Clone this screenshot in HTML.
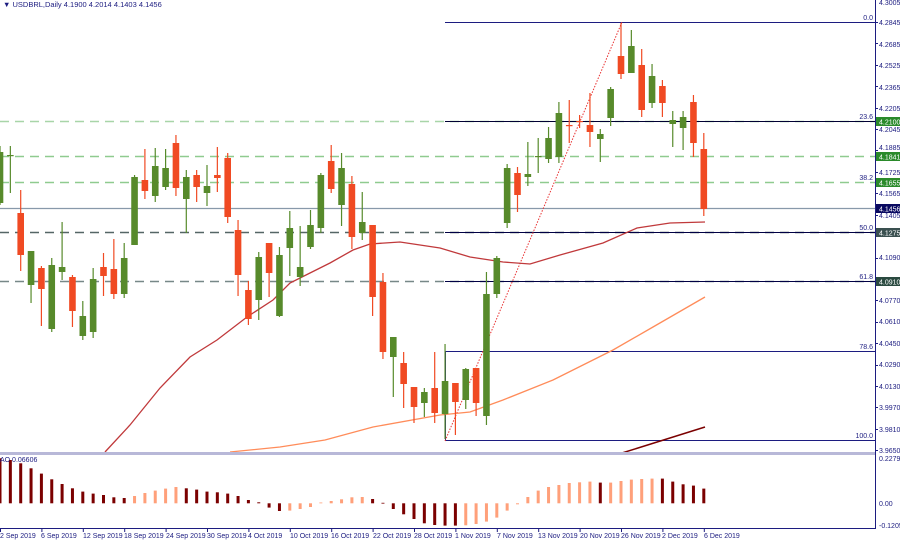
<!DOCTYPE html>
<html><head><meta charset="utf-8"><style>
html,body{margin:0;padding:0;background:#fff;width:900px;height:541px;overflow:hidden}
svg{display:block}
text{font-family:"Liberation Sans",sans-serif;font-size:7px}
</style></head><body>
<svg id="s" width="900" height="541" viewBox="0 0 900 541" xmlns="http://www.w3.org/2000/svg">
<rect width="900" height="541" fill="#fff"/>
<g stroke-width="1.5" fill="none">
<line x1="0" y1="121.5" x2="875" y2="121.5" stroke="#a8d5a8" stroke-dasharray="9,6"/>
<line x1="0" y1="156.5" x2="875" y2="156.5" stroke="#8fcb8f" stroke-dasharray="9,6"/>
<line x1="0" y1="182.5" x2="875" y2="182.5" stroke="#8fcb8f" stroke-dasharray="9,6"/>
<line x1="0" y1="208.5" x2="875" y2="208.5" stroke="#8899aa" stroke-width="1.2"/>
<line x1="0" y1="232.5" x2="875" y2="232.5" stroke="#556666" stroke-dasharray="9,6"/>
<line x1="0" y1="281.5" x2="875" y2="281.5" stroke="#778888" stroke-dasharray="9,6"/>
</g>
<g stroke="#1c1c80" stroke-width="1" fill="none">
<line x1="445" y1="22.5" x2="875" y2="22.5"/>
<line x1="445" y1="121.5" x2="875" y2="121.5" stroke="#000033"/>
<line x1="445" y1="232.5" x2="875" y2="232.5" stroke="#000044"/>
<line x1="445" y1="281.5" x2="875" y2="281.5" stroke="#000044"/>
<line x1="445" y1="351.5" x2="875" y2="351.5"/>
<line x1="445" y1="440.5" x2="875" y2="440.5"/>
<line x1="445.5" y1="351" x2="445.5" y2="441"/>
</g>
<line x1="445" y1="441" x2="622" y2="22" stroke="#e83030" stroke-width="1" stroke-dasharray="1.5,1.5"/>
<g fill="#1c1c80" text-anchor="end">
<text x="873" y="20">0.0</text><text x="873" y="119">23.6</text><text x="873" y="180">38.2</text>
<text x="873" y="230">50.0</text><text x="873" y="279">61.8</text><text x="873" y="349">78.6</text><text x="873" y="438">100.0</text>
</g>
<polyline fill="none" stroke="#c0393b" stroke-width="1.3" points="105,452 130,425 160,388 190,357 217,340 247,317 273,300 290,283 310,273 330,263 353,250 370,244 400,242 440,248 470,257 503,262 530,264 560,255 603,243 637,228 670,223 705,222"/>
<polyline fill="none" stroke="#ff8c5a" stroke-width="1.3" points="230,452 280,447 325,440 373,427 440,415 470,412 503,400 553,380 613,350 653,327 705,297"/>
<line x1="622" y1="453" x2="705" y2="427" stroke="#7b0000" stroke-width="1.5"/>
<g id="c"></g>
<rect x="0" y="452" width="875" height="3" fill="#b8b8d8"/>
<g id="ao"></g>
<line x1="0" y1="528.5" x2="876" y2="528.5" stroke="#1c1c80"/>
<line x1="875.5" y1="0" x2="875.5" y2="529" stroke="#1c1c80"/>
<g id="tk" stroke="#1c1c80"></g>
<g fill="#1c1c80">
<text x="879" y="5">4.3005</text><text x="879" y="25">4.2845</text><text x="879" y="47">4.2685</text>
<text x="879" y="68">4.2525</text><text x="879" y="90">4.2365</text><text x="879" y="111">4.2205</text>
<text x="879" y="132">4.2045</text><text x="879" y="150">4.1885</text><text x="879" y="175">4.1725</text>
<text x="879" y="196">4.1565</text><text x="879" y="218">4.1405</text><text x="879" y="260">4.1090</text>
<text x="879" y="303">4.0770</text><text x="879" y="324">4.0610</text><text x="879" y="346">4.0450</text>
<text x="879" y="367">4.0290</text><text x="879" y="389">4.0130</text><text x="879" y="410">3.9970</text>
<text x="879" y="432">3.9810</text><text x="879" y="453">3.9650</text>
<text x="879" y="461">0.22797</text><text x="879" y="506">0.00</text><text x="879" y="528">-0.12058</text>
</g>
<rect x="876" y="117" width="24" height="9" fill="#2a8a2a"/><text x="879" y="124.5" fill="#fff">4.2100</text>
<rect x="876" y="152" width="24" height="9" fill="#2a8a2a"/><text x="879" y="159.5" fill="#fff">4.1841</text>
<rect x="876" y="178" width="24" height="9" fill="#2a8a2a"/><text x="879" y="185.5" fill="#fff">4.1655</text>
<rect x="876" y="204" width="24" height="9" fill="#0a0a60"/><text x="879" y="211.5" fill="#fff">4.1456</text>
<rect x="876" y="228" width="24" height="9" fill="#3a5050"/><text x="879" y="235.5" fill="#fff">4.1275</text>
<rect x="876" y="277" width="24" height="9" fill="#2a4a40"/><text x="879" y="284.5" fill="#fff">4.0910</text>
<text x="3" y="7" fill="#1c1c80" style="font-size:7.5px">▼ USDBRL,Daily  4.1900 4.2014 4.1403 4.1456</text>
<text x="0" y="462" fill="#1c1c80">AO 0.06606</text>
<g fill="#1c1c80">
<text x="0" y="538">2 Sep 2019</text><text x="41" y="538">6 Sep 2019</text><text x="83" y="538">12 Sep 2019</text>
<text x="124" y="538">18 Sep 2019</text><text x="166" y="538">24 Sep 2019</text><text x="207" y="538">30 Sep 2019</text>
<text x="248" y="538">4 Oct 2019</text><text x="290" y="538">10 Oct 2019</text><text x="331" y="538">16 Oct 2019</text>
<text x="373" y="538">22 Oct 2019</text><text x="414" y="538">28 Oct 2019</text><text x="455" y="538">1 Nov 2019</text>
<text x="497" y="538">7 Nov 2019</text><text x="538" y="538">13 Nov 2019</text><text x="580" y="538">20 Nov 2019</text>
<text x="621" y="538">26 Nov 2019</text><text x="662" y="538">2 Dec 2019</text><text x="704" y="538">6 Dec 2019</text>
</g>
</svg>
<script>
var C=[["g",152,203,146,205],["g",155,156,146,193],["r",213,255,190,271],["g",251,285,251,303],["r",268,289,266,326],["g",265,329,258,332],["g",267,272,222,280],["r",277,311,275,327],["g",316,336,301,340],["g",279,332,268,338],["r",267,276,253,296],["r",269,294,239,299],["g",258,294,243,298],["g",177,245,175,245],["r",180,191,149,199],["g",166,196,148,202],["g",168,187,149,190],["r",143,188,135,196],["g",177,199,170,233],["r",175,187,170,202],["g",186,193,165,206],["r",175,178,147,192],["r",158,217,153,223],["r",230,275,220,296],["r",290,319,281,325],["g",257,300,252,320],["r",243,273,243,297],["g",255,316,247,317],["g",228,248,211,276],["g",267,277,226,286],["g",225,247,210,249],["g",175,228,173,233],["r",161,189,145,193],["g",168,205,153,226],["r",184,237,176,249],["g",222,233,192,240],["r",225,297,225,316],["r",282,352,273,359],["g",337,357,337,397],["r",363,384,352,408],["r",387,407,387,423],["g",392,403,388,417],["r",388,413,352,423],["g",381,414,344,439],["r",383,402,383,435],["g",369,400,368,409],["r",368,403,368,416],["g",294,416,272,425],["g",258,294,256,298],["g",168,223,164,228],["r",173,195,167,212],["g",174,177,142,186],["g",156,157,138,173],["g",138,159,127,163],["g",113,157,102,163],["r",125,126,100,143],["r",121,122,115,128],["r",125,132,93,147],["g",134,139,129,162],["g",89,118,87,126],["r",56,74,23,79],["g",46,73,30,73],["r",65,110,49,117],["g",76,103,64,108],["r",86,103,80,117],["g",120,124,111,147],["g",117,128,111,150],["r",102,143,95,157],["r",149,209,133,216]];
var A=[45,43.3,40,35,29.7,24,19.3,15,11.7,9.7,8.3,6,5.3,7.3,10.3,12.7,14.7,16.3,15,13.7,11.7,11,9.7,7.3,3.3,1,-4.3,-7.7,-7.3,-5.7,-3.7,0.8,2.3,4,6,6.3,4.3,0.5,-5.7,-11,-15.7,-20,-21.7,-22.3,-22.3,-22,-20.7,-18.3,-14.3,-7.3,-1,6.3,12.7,16.3,18.3,20.3,21,21.7,20.7,20.7,22.3,23.7,24.3,24.7,24.7,21.7,19,17.7,14.7];
var dark={};[0,1,2,3,4,5,6,7,8,9,10,11,12,18,19,20,21,22,23,24,25,26,27,36,37,38,39,40,41,42,43,44,58,64,65,66,67,68].forEach(function(i){dark[i]=1});
var ns="http://www.w3.org/2000/svg",c=document.getElementById("c"),ao=document.getElementById("ao"),tk=document.getElementById("tk");
function el(p,t,a){var e=document.createElementNS(ns,t);for(var k in a)e.setAttribute(k,a[k]);p.appendChild(e);return e}
C.forEach(function(d,i){var x=i*10.35,col=d[0]=="g"?"#578a2b":"#f04a23";
el(c,"line",{x1:x,x2:x,y1:d[3],y2:d[4],stroke:col,"stroke-width":1.2});
el(c,"rect",{x:x-3.3,y:d[1],width:6.6,height:Math.max(1.2,d[2]-d[1]),fill:col});});
A.forEach(function(v,i){var x=i*10.35;var y0=503.3;
el(ao,"rect",{x:x-1.5,y:v>0?y0-v:y0,width:3,height:Math.max(0.8,Math.abs(v)),fill:dark[i]?"#7b0000":"#ffa07a"});
if(i%4==0)el(tk,"line",{x1:x+0.5,x2:x+0.5,y1:528,y2:532});});
[22,43,65,86,108,129,150,172,193,215,236,258,279,300,322,343,365,386,407,429,450].forEach(function(y){el(tk,"line",{x1:875,x2:878,y1:y+0.5,y2:y+0.5})});
</script>
</body></html>
